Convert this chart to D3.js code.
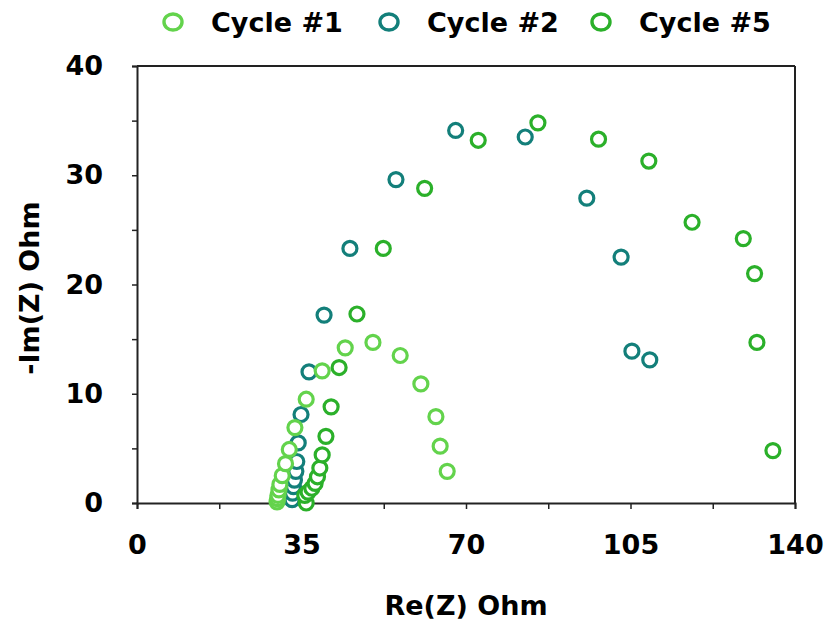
<!DOCTYPE html>
<html>
<head>
<meta charset="utf-8">
<script src="https://cdn.jsdelivr.net/npm/d3@7"></script>
<style>
  body { margin: 0; background: #fff; }
  text { font-family: "DejaVu Sans", sans-serif; font-weight: bold; }
</style>
</head>
<body>
<div id="container"></div>
<script>
// data
const cycleNames = ['Cycle #1', 'Cycle #2', 'Cycle #5'];
const cycleColors = ['#63d34c', '#137f7a', '#2bb02a'];

const cycle1X = [29.8, 29.9, 30.0, 30.2, 30.4, 30.9, 31.6, 32.4, 33.6, 36.0, 39.4, 44.3, 50.2, 56.0, 60.4, 63.6, 64.5, 66.0];
const cycle1Y = [0.1, 0.4, 0.7, 1.2, 1.7, 2.5, 3.6, 4.9, 6.9, 9.5, 12.1, 14.2, 14.7, 13.5, 10.9, 7.9, 5.2, 2.9];

const cycle2X = [33.0, 33.1, 33.3, 33.5, 33.8, 34.0, 34.3, 34.9, 36.6, 39.8, 45.3, 55.1, 67.8, 82.6, 95.7, 103.0, 105.3, 109.1];
const cycle2Y = [0.3, 0.9, 1.5, 2.1, 2.9, 3.8, 5.5, 8.1, 12.0, 17.2, 23.3, 29.6, 34.1, 33.5, 27.9, 22.5, 13.9, 13.1];

const cycle5X = [36.0, 35.7, 36.4, 37.2, 37.9, 38.4, 38.9, 39.4, 40.2, 41.3, 43.0, 46.8, 52.4, 61.2, 72.6, 85.3, 98.2, 108.9, 118.1, 129.0, 131.4, 131.9, 135.3];
const cycle5Y = [0.0, 0.7, 1.0, 1.35, 1.8, 2.4, 3.2, 4.4, 6.1, 8.8, 12.4, 17.3, 23.3, 28.8, 33.2, 34.8, 33.3, 31.3, 25.7, 24.2, 21.0, 14.7, 4.8];

const xTicks = [0, 17.5, 35, 52.5, 70, 87.5, 105, 122.5, 140];
const yTicks = [0, 5, 10, 15, 20, 25, 30, 35, 40];

const width = 825;
const height = 626;

const margin_left = 137;
const margin_right = 30;
const margin_top = 66;
const margin_bottom = 123;

const svg = d3.select('#container')
  .append('svg')
  .attr('width', width)
  .attr('height', height);

const x = d3.scaleLinear()
  .domain([0, 140])
  .range([margin_left, width - margin_right]);

const y = d3.scaleLinear()
  .domain([0, 40])
  .range([height - margin_bottom, margin_top]);

// frame on top and right
svg.append('line')
  .attr('x1', x(0)).attr('x2', x(140))
  .attr('y1', y(40)).attr('y2', y(40))
  .attr('stroke', '#222').attr('stroke-width', 2);
svg.append('line')
  .attr('x1', x(140)).attr('x2', x(140))
  .attr('y1', y(40)).attr('y2', y(0))
  .attr('stroke', '#222').attr('stroke-width', 2);

// axes
const xAxis = svg.append('g')
  .attr('transform', 'translate(0,' + y(0) + ')')
  .call(d3.axisBottom(x)
    .tickValues(xTicks)
    .tickSize(6)
    .tickPadding(26)
    .tickFormat(d => d % 35 === 0 ? d : ''));

const yAxis = svg.append('g')
  .attr('transform', 'translate(' + x(0) + ',0)')
  .call(d3.axisLeft(y)
    .tickValues(yTicks)
    .tickSize(5)
    .tickPadding(29)
    .tickFormat(d => d % 10 === 0 ? d : ''));

[xAxis, yAxis].forEach(a => {
  a.select('.domain').attr('stroke', '#222').attr('stroke-width', 2);
  a.selectAll('.tick line').attr('stroke', '#222').attr('stroke-width', 1.5);
  a.selectAll('.tick text')
    .attr('fill', '#000')
    .style('font-size', '27px')
    .style('font-family', '"DejaVu Sans", sans-serif')
    .style('font-weight', 'bold');
});

// axis titles
svg.append('text')
  .attr('x', x(70))
  .attr('y', 615)
  .attr('text-anchor', 'middle')
  .style('font-size', '27px')
  .text('Re(Z) Ohm');

svg.append('text')
  .attr('transform', 'translate(39,288) rotate(-90)')
  .attr('text-anchor', 'middle')
  .style('font-size', '27px')
  .text('-Im(Z) Ohm');

// points, teal first so the greens sit on top
const series = [
  {name: cycleNames[1], color: cycleColors[1], xs: cycle2X, ys: cycle2Y},
  {name: cycleNames[0], color: cycleColors[0], xs: cycle1X, ys: cycle1Y},
  {name: cycleNames[2], color: cycleColors[2], xs: cycle5X, ys: cycle5Y}
];

series.forEach(s => {
  const pts = s.xs.map((v, i) => ({x: v, y: s.ys[i]}));
  svg.append('g')
    .selectAll('circle')
    .data(pts)
    .enter()
    .append('circle')
    .attr('cx', d => x(d.x))
    .attr('cy', d => y(d.y))
    .attr('r', 7)
    .attr('fill', '#fff')
    .attr('stroke', s.color)
    .attr('stroke-width', 3.2);
});

// legend
const legendX = [173, 389, 601];
const legend = svg.selectAll('.legend')
  .data(cycleNames)
  .enter()
  .append('g')
  .attr('class', 'legend')
  .attr('transform', (d, i) => 'translate(' + legendX[i] + ',22)');

legend.append('ellipse')
  .attr('rx', 9)
  .attr('ry', 8)
  .attr('fill', '#fff')
  .attr('stroke', (d, i) => cycleColors[i])
  .attr('stroke-width', 3.4);

legend.append('text')
  .attr('x', 38)
  .attr('y', 10)
  .style('font-size', '27px')
  .text(d => d);
</script>
</body>
</html>
